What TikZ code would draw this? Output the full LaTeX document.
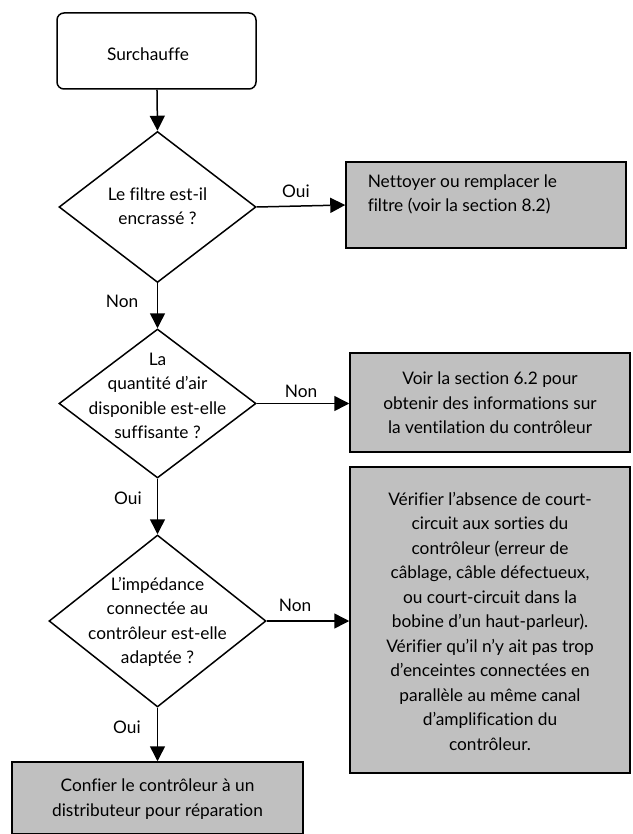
\documentclass[tikz,border=0pt]{standalone}
\usepackage{fontspec}
\setmainfont[Ligatures=NoCommon]{Lato}
\usetikzlibrary{shapes.geometric,arrows.meta}
\definecolor{boxgray}{RGB}{192,192,192}
\begin{document}
\begin{tikzpicture}[x=1pt,y=-1pt,
  font=\fontsize{17.3}{24.5}\selectfont,
  line width=1.5pt,
  arr/.style={-{Triangle[length=15pt,width=15pt]}},
  graybox/.style={draw,fill=boxgray,rectangle,inner sep=0pt},
  lbl/.style={inner sep=0pt}]
\useasboundingbox (0,0) rectangle (632,834);
% start
\node[draw,rounded corners=7pt,minimum width=199pt,minimum height=76pt,inner sep=0pt] (start) at (156.5,51) {};
\node[lbl] (starttxt) at (148,54) {Surchauffe};
% decisions
\node[draw,diamond,inner sep=0pt,minimum width=197pt,minimum height=151pt,aspect=1.3] (d1) at (157.5,207) {};
\node[lbl,align=center] (d1t) at (157.5,206) {Le filtre est-il\\encrassé ?};
\node[draw,diamond,inner sep=0pt,minimum width=197pt,minimum height=149pt,aspect=1.3] (d2) at (157.5,403.5) {};
\node[lbl,align=center] (d2t) at (157.5,396) {La\\quantité d’air\\disponible est-elle\\suffisante ?};
\node[draw,diamond,inner sep=0pt,minimum width=217pt,minimum height=172pt,aspect=1.26] (d3) at (157.5,621) {};
\node[lbl,align=center] (d3t) at (157.5,622) {L’impédance\\connectée au\\contrôleur est-elle\\adaptée ?};
% boxes
\node[graybox,minimum width=280pt,minimum height=86pt] (b1) at (486,205) {};
\node[lbl,align=left,anchor=north west] (b1t) at (367,174) {Nettoyer ou remplacer le\\filtre (voir la section 8.2)};
\node[graybox,minimum width=280pt,minimum height=99pt] (b2) at (490,402.5) {};
\node[lbl,align=center] (b2t) at (490,403) {Voir la section 6.2 pour\\obtenir des informations sur\\la ventilation du contrôleur};
\node[graybox,minimum width=280pt,minimum height=306pt] (b3) at (490,620) {};
\node[lbl,align=center] (b3t) at (490,621) {Vérifier l’absence de court-\\circuit aux sorties du\\contrôleur (erreur de\\câblage, câble défectueux,\\ou court-circuit dans la\\bobine d’un haut-parleur).\\Vérifier qu’il n’y ait pas trop\\d’enceintes connectées en\\parallèle au même canal\\d’amplification du\\contrôleur.};
\node[graybox,minimum width=291pt,minimum height=72pt] (b4) at (157.5,798) {};
\node[lbl,align=center] (b4t) at (157.5,799) {Confier le contrôleur à un\\distributeur pour réparation};
% connectors
\draw[arr] (start) -- (d1.north);
\draw[arr] (d1.east) -- (b1.west);
\draw[arr] (d1.south) -- (d2.north);
\draw[arr] (d2.east) -- (b2.west |- d2.east);
\draw[arr] (d2.south) -- (d3.north);
\draw[arr] (d3.east) -- (b3.west |- d3.east);
\draw[arr] (d3.south) -- (b4.north);
% labels
\node[lbl] (l1) at (296,191) {Oui};
\node[lbl] (l2) at (122,301) {Non};
\node[lbl] (l3) at (301,391) {Non};
\node[lbl] (l4) at (128,498) {Oui};
\node[lbl] (l5) at (295,605) {Non};
\node[lbl] (l6) at (127,727) {Oui};
\end{tikzpicture}
\end{document}
